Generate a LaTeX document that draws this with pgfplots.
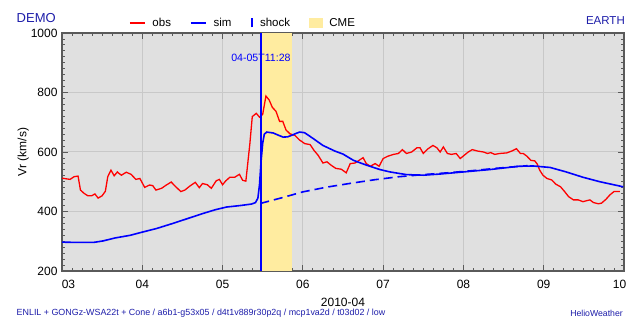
\documentclass[border=0pt]{standalone}
\usepackage{fontspec}
\setmainfont{Liberation Sans}
\usepackage{pgfplots}
\pgfplotsset{compat=1.18}
\definecolor{bggray}{RGB}{224,224,224}
\definecolor{gridgray}{RGB}{200,200,200}
\definecolor{axgray}{RGB}{90,90,90}
\definecolor{cmeyellow}{RGB}{255,236,160}
\definecolor{navy}{RGB}{30,30,170}
\definecolor{pureblue}{RGB}{0,0,255}
\definecolor{purered}{RGB}{255,0,0}
\begin{document}
\begin{tikzpicture}
\fill[white] (0,0) rectangle (640bp,320bp);
\path[use as bounding box] (0,0) rectangle (640bp,320bp);
\begin{axis}[
  at={(62bp,49bp)}, anchor=south west,
  scale only axis, width=562bp, height=238bp,
  xmin=3, xmax=10, ymin=200, ymax=1000,
  xtick={3,4,5,6,7,8,9,10},
  xticklabels={\hspace*{13bp}03,04,05,06,07,08,09,10\hspace*{9bp}},
  ytick={200,400,600,800,1000},
  minor x tick num=7, minor y tick num=9,
  xtick pos=both, ytick pos=both,
  xticklabel pos=lower, yticklabel pos=left,
  tick align=inside,
  major tick length=6bp, minor tick length=3bp,
  every tick/.style={axgray, line width=0.8bp},
  axis line style={axgray, line width=1.3bp},
  axis background/.style={fill=bggray},
  grid=major,
  major grid style={gridgray, line width=1bp},
  /pgf/number format/assume math mode=true,
  /pgf/number format/1000 sep={},
  tick label style={font=\fontsize{12bp}{14bp}\selectfont, black},
  xticklabel style={yshift=-6bp},
  yticklabel style={xshift=-1bp},
  ylabel={Vr (km/s)},
  ylabel style={at={(axis description cs:-0.069,0.5)}, anchor=center, font=\fontsize{12bp}{14bp}\selectfont},
  xlabel={2010-04},
  xlabel style={at={(axis description cs:0.5,-0.13)}, anchor=center, font=\fontsize{12bp}{14bp}\selectfont},
  legend columns=4,
  legend style={at={(axis description cs:0.119,1.042)}, anchor=west, draw=none, fill=none,
    inner sep=0pt, font=\fontsize{11.5bp}{13bp}\selectfont,
    nodes={inner sep=0pt},
    /tikz/every odd column/.append style={column sep=7bp},
    /tikz/every even column/.append style={column sep=19bp}},
]
\addlegendimage{legend image code/.code={\draw[purered, line width=1.4bp] (0bp,0bp) -- (15bp,0bp);}}
\addlegendentry{obs}
\addlegendimage{legend image code/.code={\draw[pureblue, line width=1.6bp] (0bp,0bp) -- (15bp,0bp);}}
\addlegendentry{sim}
\addlegendimage{legend image code/.code={\draw[pureblue, line width=2.5bp] (1.25bp,-4.5bp) -- (1.25bp,4.5bp);}}
\addlegendentry{shock}
\addlegendimage{legend image code/.code={\fill[cmeyellow] (0bp,-4.5bp) rectangle (13bp,4.5bp);}}
\addlegendentry{CME}

% CME band
\addplot[fill=cmeyellow, draw=none, forget plot] coordinates {(5.49,200) (5.86,200) (5.86,1000) (5.49,1000)} -- cycle;
% dashed sim (no-CME)
\addplot[pureblue, line width=1.6bp, dash pattern=on 9bp off 5bp, forget plot] coordinates {
(5.47,427)(5.75,447)(6.0,466)(6.3,482)(6.6,495)(6.9,507)(7.2,517)(7.5,524)(7.8,530)(8.1,537)(8.4,545)(8.7,552)(8.8,554)};
% obs
\addplot[purered, line width=1.3bp, forget plot] coordinates {
(3.00,512)(3.05,510)(3.10,508)(3.15,517)(3.20,519)(3.23,472)(3.275,461)(3.32,453)(3.37,453)(3.41,459)(3.45,445)(3.50,453)(3.54,468)(3.57,517)(3.61,539)(3.65,520)(3.69,533)(3.70,530)(3.74,522)(3.80,532)(3.86,525)(3.92,508)(3.97,511)(4.03,481)(4.09,489)(4.13,487)(4.17,472)(4.24,478)(4.30,489)(4.36,499)(4.41,485)(4.48,467)(4.53,472)(4.59,485)(4.66,498)(4.71,480)(4.75,494)(4.81,490)(4.86,478)(4.92,503)(4.96,508)(5.00,490)(5.04,503)(5.09,515)(5.15,515)(5.21,525)(5.25,505)(5.29,502)(5.34,628)(5.37,719)(5.42,730)(5.46,717)(5.50,727)(5.54,788)(5.58,775)(5.62,750)(5.665,737)(5.71,703)(5.75,703)(5.79,674)(5.84,661)(5.90,656)(5.955,641)(6.025,628)(6.09,625)(6.14,605)(6.19,589)(6.25,563)(6.30,567)(6.35,556)(6.41,545)(6.48,542)(6.54,530)(6.59,561)(6.65,563)(6.70,572)(6.75,581)(6.79,561)(6.84,552)(6.90,561)(6.95,552)(7.00,578)(7.06,586)(7.13,592)(7.19,595)(7.24,608)(7.29,595)(7.355,600)(7.42,614)(7.46,614)(7.50,595)(7.56,611)(7.62,622)(7.67,614)(7.71,600)(7.75,617)(7.80,595)(7.85,592)(7.91,595)(7.96,578)(8.01,589)(8.06,600)(8.11,608)(8.18,603)(8.25,600)(8.30,595)(8.34,598)(8.39,592)(8.45,595)(8.54,597)(8.60,603)(8.66,611)(8.71,595)(8.745,595)(8.79,586)(8.84,572)(8.89,570)(8.92,559)(8.95,539)(8.99,522)(9.04,511)(9.10,506)(9.15,492)(9.21,483)(9.26,467)(9.31,450)(9.37,439)(9.43,439)(9.49,433)(9.53,436)(9.575,439)(9.62,430)(9.68,426)(9.72,428)(9.775,441)(9.825,456)(9.875,467)(9.95,467)};
% sim
\addplot[pureblue, line width=1.6bp, forget plot] coordinates {
(3.0,297)(3.2,296)(3.39,296)(3.51,301)(3.66,311)(3.85,320)(3.99,330)(4.18,343)(4.37,359)(4.55,375)(4.74,392)(4.91,406)(5.05,415)(5.22,420)(5.36,425)(5.41,430)(5.44,445)(5.46,490)(5.48,570)(5.50,630)(5.52,660)(5.55,667)(5.63,664)(5.69,657)(5.755,650)(5.81,651)(5.86,656)(5.92,663)(5.96,667)(6.02,665)(6.07,656)(6.13,645)(6.25,622)(6.40,603)(6.50,593)(6.63,572)(6.79,556)(6.96,541)(7.085,533)(7.29,524)(7.5,522)(7.71,526)(8.0,533)(8.33,541)(8.69,552)(8.87,553)(9.08,548)(9.28,533)(9.49,515)(9.70,500)(9.99,483)};
% shock line
\addplot[pureblue, line width=2.4bp, forget plot] coordinates {(5.478,200) (5.478,1000)};
\node[pureblue, font=\fontsize{10.6bp}{12bp}\selectfont, inner sep=0pt] at (axis cs:5.478,917) {04-05T11:28};
\end{axis}
\node[navy, font=\fontsize{13bp}{15bp}\selectfont, inner sep=0pt, anchor=west] at (16.5bp,302bp) {DEMO};
\node[navy, font=\fontsize{11.5bp}{13bp}\selectfont, inner sep=0pt, anchor=east] at (625bp,299bp) {EARTH};
\node[navy, font=\fontsize{8.9bp}{10bp}\selectfont, inner sep=0pt, anchor=west] at (16.5bp,6.5bp) {ENLIL + GONGz-WSA22t + Cone / a6b1-g53x05 / d4t1v889r30p2q / mcp1va2d / t03d02 / low};
\node[navy, font=\fontsize{8.7bp}{10bp}\selectfont, inner sep=0pt, anchor=east] at (623bp,6.5bp) {HelioWeather};
\end{tikzpicture}
\end{document}
